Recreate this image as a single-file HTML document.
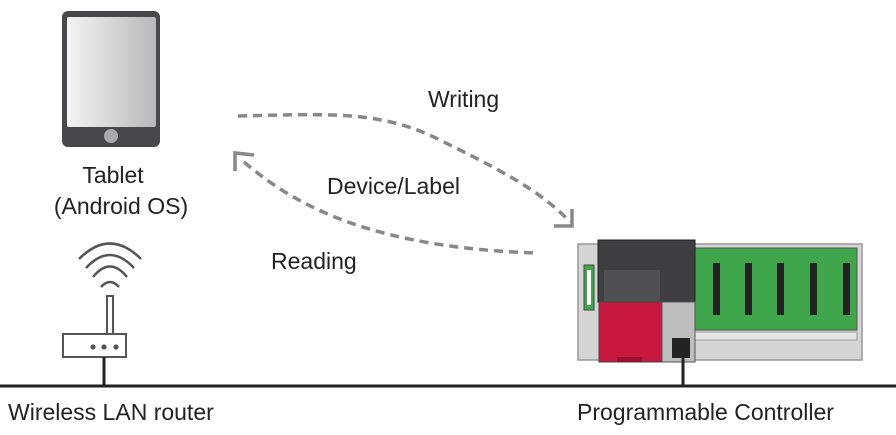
<!DOCTYPE html>
<html><head><style>
body{margin:0;background:#fff;width:896px;height:430px;overflow:hidden;font-family:"Liberation Sans",sans-serif;}
</style></head><body>
<svg width="896" height="430" viewBox="0 0 896 430" xmlns="http://www.w3.org/2000/svg">
<defs>
<linearGradient id="scr" x1="0" x2="1" y1="0" y2="0">
<stop offset="0" stop-color="#f4f4f4"/><stop offset="0.6" stop-color="#d0d0d0"/><stop offset="1" stop-color="#b8b8ba"/>
</linearGradient>
</defs>
<!-- tablet -->
<rect x="62" y="11" width="98" height="136" rx="6" fill="#48484a"/>
<rect x="67" y="17" width="89" height="110" rx="2" fill="url(#scr)"/>
<circle cx="111" cy="136" r="7" fill="#a9a9ab"/>
<g font-size="23" fill="#222" text-anchor="middle">
<text x="113" y="183">Tablet</text>
<text x="121" y="214">(Android OS)</text>
</g>
<!-- router -->
<g fill="none" stroke="#555" stroke-width="2.5">
<path d="M79 259 Q110 228 141 259"/>
<path d="M86 268 Q110 242 134 268"/>
<path d="M93 277 Q110 256 127 277"/>
<path d="M101 287 Q110 277 119 287"/>
</g>
<rect x="107" y="296" width="6" height="38" fill="#fff" stroke="#555" stroke-width="2"/>
<rect x="63" y="334" width="63" height="23" fill="#fff" stroke="#555" stroke-width="2"/>
<circle cx="93" cy="347" r="2.6" fill="#555"/><circle cx="104" cy="347" r="2.6" fill="#555"/><circle cx="116" cy="347" r="2.6" fill="#555"/>
<line x1="104" y1="357" x2="104" y2="386" stroke="#222" stroke-width="3"/>
<line x1="0" y1="386" x2="896" y2="386" stroke="#222" stroke-width="3"/>
<!-- arrows -->
<g fill="none" stroke="#888" stroke-width="3.5">
<path d="M238 116 C330 114 380 110 440 140 C500 170 540 190 570 222" stroke-dasharray="9 6"/>
<path d="M244 162 C300 210 380 248 537 253" stroke-dasharray="9 6"/>
<path d="M554 226 L572 226 L572 209"/>
<path d="M254 155 L235 153 L235 171"/>
</g>
<g font-size="23" fill="#222">
<text x="428" y="107">Writing</text>
<text x="327" y="194">Device/Label</text>
<text x="271" y="269">Reading</text>
</g>
<!-- PLC -->
<rect x="578" y="244" width="284" height="116" fill="#d5d5d5" stroke="#999" stroke-width="1.5"/>
<rect x="695" y="248" width="162" height="82" fill="#3fa64b" stroke="#555"/>
<g fill="#222">
<rect x="713" y="263" width="7" height="52"/>
<rect x="745" y="263" width="7" height="52"/>
<rect x="777" y="263" width="7" height="52"/>
<rect x="810" y="263" width="7" height="52"/>
<rect x="843" y="263" width="7" height="52"/>
</g>
<rect x="695" y="332" width="162" height="8" fill="#e6e6e6" stroke="#999"/>
<rect x="584" y="265" width="10" height="45" fill="#3fa64b" stroke="#444"/>
<rect x="587" y="270" width="4" height="35" fill="#fff"/>
<rect x="598" y="240" width="97" height="62" fill="#3f3f41" stroke="#222"/>
<rect x="604" y="270" width="56" height="32" fill="#505052"/>
<rect x="599" y="302" width="63" height="60" fill="#c8183f" stroke="#444"/>
<rect x="617" y="357" width="25" height="5" fill="#9a1030"/>
<rect x="662" y="302" width="33" height="60" fill="#bdbdbd" stroke="#555"/>
<rect x="672" y="338" width="18" height="20" fill="#222"/>
<line x1="683" y1="358" x2="683" y2="386" stroke="#222" stroke-width="3"/>
<g font-size="23" fill="#222">
<text x="8" y="420">Wireless LAN router</text>
<text x="577" y="420">Programmable Controller</text>
</g>
</svg>
</body></html>
